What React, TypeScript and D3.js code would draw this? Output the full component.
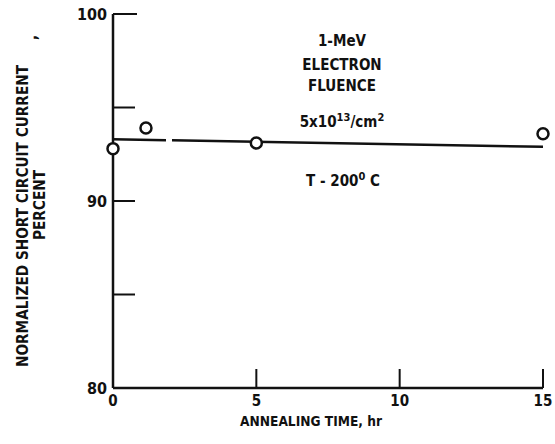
import { useRef, useEffect } from "react";
import * as d3 from "d3";

const hours = [0, 1.15, 5, 15];
const currentPct = [92.8, 93.9, 93.1, 93.6];
const fitHours = [0, 15];
const fitPct = [93.3, 92.9];
const yTicks = [80, 85, 90, 95, 100];
const yLabels = [80, 90, 100];
const xTicks = [0, 5, 10, 15];
const noteLines = ["1-MeV", "ELECTRON", "FLUENCE"];

const FONT = "'DejaVu Sans Condensed', 'Liberation Sans Narrow', sans-serif";

export default function App() {
  const svgRef = useRef<SVGSVGElement>(null);

  useEffect(() => {
    document.body.style.margin = "0";
    if (!svgRef.current) return;
    const svg = d3.select(svgRef.current);
    svg.selectAll("*").remove();

    const width = 555;
    const height = 444;
    const x = d3.scaleLinear().domain([0, 15]).range([113, 543]);
    const y = d3.scaleLinear().domain([80, 100]).range([388, 14]);
    const ink = "#111";

    svg.attr("width", width).attr("height", height).style("background", "#fff");

    const g = svg.append("g").attr("font-family", FONT).attr("font-weight", "bold").attr("fill", ink);

    // axes
    g.append("line")
      .attr("x1", x(0)).attr("x2", x(0))
      .attr("y1", y(100)).attr("y2", y(80))
      .attr("stroke", ink).attr("stroke-width", 2.5);
    g.append("line")
      .attr("x1", x(0)).attr("x2", x(15))
      .attr("y1", y(80)).attr("y2", y(80))
      .attr("stroke", ink).attr("stroke-width", 2.5);

    g.selectAll(".ytick")
      .data(yTicks.filter((d) => d !== 80))
      .enter()
      .append("line")
      .attr("x1", x(0))
      .attr("x2", (d) => x(0) + (d === 100 ? 24 : 22))
      .attr("y1", (d) => y(d))
      .attr("y2", (d) => y(d))
      .attr("stroke", ink)
      .attr("stroke-width", 2);

    g.selectAll(".xtick")
      .data(xTicks.filter((d) => d !== 0))
      .enter()
      .append("line")
      .attr("x1", (d) => x(d))
      .attr("x2", (d) => x(d))
      .attr("y1", y(80))
      .attr("y2", y(80) - 19)
      .attr("stroke", ink)
      .attr("stroke-width", 2);

    g.selectAll(".ylab")
      .data(yLabels)
      .enter()
      .append("text")
      .attr("x", 107)
      .attr("y", (d) => y(d) + 6)
      .attr("text-anchor", "end")
      .attr("font-size", 16)
      .text((d) => d);

    g.selectAll(".xlab")
      .data(xTicks)
      .enter()
      .append("text")
      .attr("x", (d) => x(d))
      .attr("y", 406)
      .attr("text-anchor", "middle")
      .attr("font-size", 15)
      .text((d) => d);

    g.append("text")
      .attr("x", 311)
      .attr("y", 426)
      .attr("text-anchor", "middle")
      .attr("font-size", 14)
      .attr("textLength", 142)
      .attr("lengthAdjust", "spacingAndGlyphs")
      .text("ANNEALING TIME, hr");

    // y title
    g.append("text")
      .attr("transform", "translate(28, 367) rotate(-90)")
      .attr("font-size", 15)
      .attr("textLength", 302)
      .attr("lengthAdjust", "spacingAndGlyphs")
      .text("NORMALIZED SHORT CIRCUIT CURRENT");
    g.append("text")
      .attr("transform", "translate(37, 40) rotate(-90)")
      .attr("font-size", 15)
      .text(",");
    g.append("text")
      .attr("transform", "translate(45, 205) rotate(-90)")
      .attr("text-anchor", "middle")
      .attr("font-size", 15)
      .attr("textLength", 70)
      .attr("lengthAdjust", "spacingAndGlyphs")
      .text("PERCENT");

    // annotation
    const note = g.append("g").attr("text-anchor", "middle").attr("font-size", 15);
    noteLines.forEach((t, i) => {
      note.append("text")
        .attr("x", 342)
        .attr("y", [46, 70, 91][i])
        .text(t);
    });
    const fl = note.append("text").attr("x", 342).attr("y", 127);
    fl.append("tspan").text("5x10");
    fl.append("tspan").attr("font-size", 11).attr("dy", -6).text("13");
    fl.append("tspan").attr("dy", 6).text("/cm");
    fl.append("tspan").attr("font-size", 11).attr("dy", -6).text("2");
    const tt = note.append("text").attr("x", 343).attr("y", 186);
    tt.append("tspan").text("T - 200");
    tt.append("tspan").attr("font-size", 11).attr("dy", -6).text("0");
    tt.append("tspan").attr("dy", 6).text(" C");

    // fitted line
    const line = d3.line<number>().x((_d, i) => x(fitHours[i])).y((d) => y(d));
    g.append("path")
      .attr("d", line(fitPct))
      .attr("fill", "none")
      .attr("stroke", ink)
      .attr("stroke-width", 2.5)
      .attr("stroke-dasharray", "53 6 1000");

    // data points
    g.selectAll(".pt")
      .data(currentPct)
      .enter()
      .append("circle")
      .attr("cx", (_d, i) => x(hours[i]))
      .attr("cy", (d) => y(d))
      .attr("r", 5.5)
      .attr("fill", "#fff")
      .attr("stroke", ink)
      .attr("stroke-width", 2.5);
  }, []);

  return <svg ref={svgRef} style={{ display: "block" }} />;
}
